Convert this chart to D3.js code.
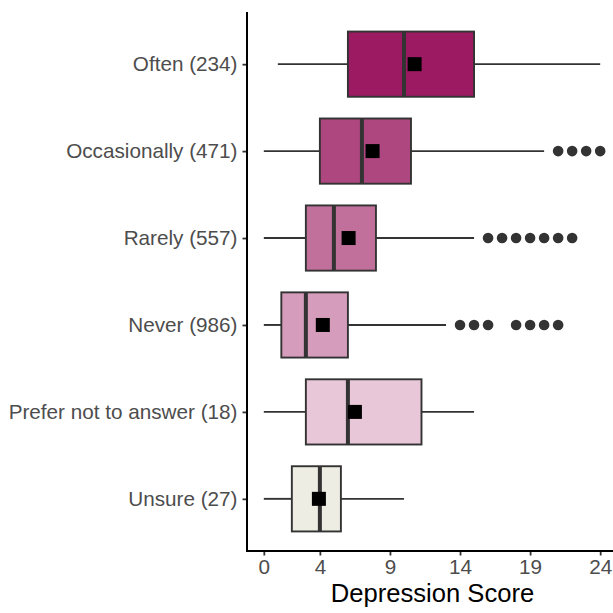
<!DOCTYPE html>
<html>
<head>
<meta charset="utf-8">
<script src="https://cdn.jsdelivr.net/npm/d3@7"></script>
<style>
  html, body { margin: 0; padding: 0; background: #fff; }
  svg { display: block; }
</style>
</head>
<body>
<svg id="chart" width="613" height="613"></svg>
<script>
// ---- Data ----
const categories = ["Often (234)", "Occasionally (471)", "Rarely (557)", "Never (986)", "Prefer not to answer (18)", "Unsure (27)"];
const whiskerLow  = [1, 0, 0, 0, 0, 0];
const q1          = [6, 4, 3, 1.25, 3, 2];
const medians     = [10, 7, 5, 3, 6, 4];
const q3          = [15, 10.5, 8, 6, 11.25, 5.5];
const whiskerHigh = [24, 20, 15, 13, 15, 10];
const means       = [10.76, 7.76, 6.05, 4.21, 6.5, 3.93];
const outliers    = [[], [21, 22, 23, 24], [16, 17, 18, 19, 20, 21, 22], [14, 15, 16, 18, 19, 20, 21], [], []];
const fillColors  = ["#9C1A62", "#AE4780", "#C1709C", "#D59CBB", "#E8C8D8", "#EDEDE3"];
const xTicks      = [0, 4, 9, 14, 19, 24];
const xTitle      = "Depression Score";

(function () {
// ---- Layout ----
const svg = d3.select("#chart");
const pLeft = 247, pRight = 617, pTop = 12, pBottom = 551;

const x = d3.scaleLinear().domain([-1.2, 25.2]).range([pLeft, pRight]);
// discrete positions: top category = 6, bottom = 1, expand 0.6
const yPos = d3.scaleLinear().domain([6.6, 0.4]).range([pTop, pBottom]);
const posOf = i => categories.length - i;
const unit = (pBottom - pTop) / 6.2;
const boxH = unit * 0.75;

const rows = categories.map((c, i) => ({
  cat: c, lo: whiskerLow[i], q1: q1[i], med: medians[i], q3: q3[i],
  hi: whiskerHigh[i], mean: means[i], out: outliers[i], fill: fillColors[i],
  y: yPos(posOf(i))
}));

const g = svg.append("g");

// whiskers
g.selectAll(".wl").data(rows).join("line")
  .attr("x1", d => x(d.lo)).attr("x2", d => x(d.q1))
  .attr("y1", d => d.y).attr("y2", d => d.y)
  .attr("stroke", "#333333").attr("stroke-width", 1.9);
g.selectAll(".wh").data(rows).join("line")
  .attr("x1", d => x(d.q3)).attr("x2", d => x(d.hi))
  .attr("y1", d => d.y).attr("y2", d => d.y)
  .attr("stroke", "#333333").attr("stroke-width", 1.9);

// boxes
g.selectAll(".box").data(rows).join("rect")
  .attr("x", d => x(d.q1)).attr("width", d => x(d.q3) - x(d.q1))
  .attr("y", d => d.y - boxH / 2).attr("height", boxH)
  .attr("fill", d => d.fill).attr("stroke", "#333333").attr("stroke-width", 1.9);

// medians
g.selectAll(".med").data(rows).join("line")
  .attr("x1", d => x(d.med)).attr("x2", d => x(d.med))
  .attr("y1", d => d.y - boxH / 2).attr("y2", d => d.y + boxH / 2)
  .attr("stroke", "#333333").attr("stroke-width", 4);

// outliers
rows.forEach(d => {
  g.append("g").selectAll("circle").data(d.out).join("circle")
    .attr("cx", v => x(v)).attr("cy", d.y).attr("r", 5.3)
    .attr("fill", "#333333");
});

// means
const sq = 14;
g.selectAll(".mean").data(rows).join("rect")
  .attr("x", d => x(d.mean) - sq / 2).attr("y", d => d.y - sq / 2)
  .attr("width", sq).attr("height", sq).attr("fill", "#000");

// ---- Axes ----
const yBand = d3.scaleOrdinal().domain(categories).range(rows.map(r => r.y));
const yAxis = d3.axisLeft(yBand).tickSize(4.5).tickPadding(5);
const yg = svg.append("g").attr("transform", `translate(${pLeft},0)`).call(yAxis);
yg.select(".domain").remove();
yg.selectAll(".tick line").attr("stroke", "#333333").attr("stroke-width", 1.8);
yg.selectAll(".tick text").attr("fill", "#4D4D4D")
  .style("font-family", "'Liberation Sans', Arial, sans-serif").style("font-size", "20.7px");

const xAxis = d3.axisBottom(x).tickValues(xTicks).tickSize(4.5).tickPadding(4);
const xg = svg.append("g").attr("transform", `translate(0,${pBottom})`).call(xAxis);
xg.select(".domain").remove();
xg.selectAll(".tick line").attr("stroke", "#333333").attr("stroke-width", 1.8);
xg.selectAll(".tick text").attr("fill", "#4D4D4D")
  .style("font-family", "'Liberation Sans', Arial, sans-serif").style("font-size", "20.7px");

// axis lines
svg.append("line").attr("x1", pLeft).attr("x2", pLeft).attr("y1", pTop).attr("y2", pBottom + 1)
  .attr("stroke", "#000").attr("stroke-width", 2);
svg.append("line").attr("x1", pLeft - 1).attr("x2", 613).attr("y1", pBottom).attr("y2", pBottom)
  .attr("stroke", "#000").attr("stroke-width", 2);

// axis title
svg.append("text").attr("x", 432.5).attr("y", 602)
  .attr("text-anchor", "middle").attr("fill", "#000")
  .style("font-family", "'Liberation Sans', Arial, sans-serif").style("font-size", "25.6px")
  .text(xTitle);
})();
</script>
</body>
</html>
